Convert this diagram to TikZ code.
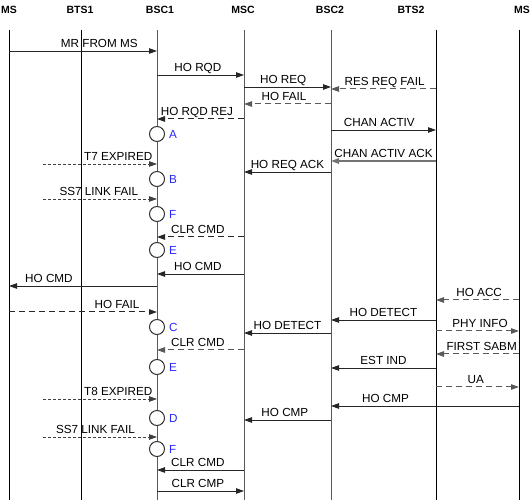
\documentclass[tikz,border=0pt]{standalone}
\usepackage{fontspec}
\setmainfont{Liberation Sans}
\usetikzlibrary{arrows.meta}
\definecolor{lettblue}{RGB}{40,40,250}

\begin{document}
\begin{tikzpicture}[
    x=1pt, y=-1pt,
    head/.style={font=\fontsize{10.5}{12}\selectfont\bfseries, inner sep=0pt},
    life/.style={line width=1pt},
    lifeg/.style={line width=1pt, black!65},
    msg/.style={-{Triangle[length=8pt,width=5.5pt]}, line width=0.9pt, black!85},
    dmsg/.style={msg, black!65, line width=1pt, dash pattern=on 6pt off 4pt},
    fmsg/.style={msg, black!75, line width=0.8pt, dash pattern=on 3pt off 2pt},
    lbl/.style={font=\fontsize{11.7}{13}\selectfont, text=black, anchor=base, yshift=3.5pt, inner sep=0pt},
    stcirc/.style={circle, draw=black!80, fill=white, line width=1pt, minimum size=15pt, inner sep=0pt,
        label={[font=\fontsize{11.7}{13}\selectfont, text=lettblue, inner sep=0pt, label distance=4pt]right:#1}}
]
\useasboundingbox (0,0) rectangle (531,502);

% headers
\node[head] (hms) at (9,10) {MS};
\node[head] (hbts1) at (80,10) {BTS1};
\node[head] (hbsc1) at (160,10) {BSC1};
\node[head] (hmsc) at (243,10) {MSC};
\node[head] (hbsc2) at (330,10) {BSC2};
\node[head] (hbts2) at (411,10) {BTS2};
\node[head] (hms2) at (522,10) {MS};

% lifelines
\coordinate (ms) at (9,30);
\coordinate (bts1) at (81,30);
\coordinate (bsc1) at (157,30);
\coordinate (msc) at (244,30);
\coordinate (bsc2) at (331,30);
\coordinate (bts2) at (436,30);
\coordinate (ms2) at (519,30);
\coordinate (tmr) at (43,30);

\draw[life] (ms) -- (ms |- 0,500);
\draw[life] (bts1) -- (bts1 |- 0,500);
\draw[lifeg] (bsc1) -- (bsc1 |- 0,500);
\draw[lifeg] (msc) -- (msc |- 0,500);
\draw[lifeg] (bsc2) -- (bsc2 |- 0,500);
\draw[life] (bts2) -- (bts2 |- 0,500);
\draw[life] (ms2) -- (ms2 |- 0,500);

% messages
\draw[msg] (ms |- 0,51) -- node[lbl, pos=.61] {MR FROM MS} (bsc1 |- 0,51);
\draw[msg] (bsc1 |- 0,75) -- node[lbl, pos=.47] {HO RQD} (msc |- 0,75);
\draw[msg] (msc |- 0,87) -- node[lbl, pos=.45] {HO REQ} (bsc2 |- 0,87);
\draw[dmsg] (bts2 |- 0,89) -- node[lbl, pos=.49] {RES REQ FAIL} (bsc2 |- 0,89);
\draw[dmsg] (bsc2 |- 0,104) -- node[lbl, pos=.54] {HO FAIL} (msc |- 0,104);
\draw[dmsg, black!85] (msc |- 0,119) -- node[lbl, pos=.54] {HO RQD REJ} (bsc1 |- 0,119);
\draw[msg] (bsc2 |- 0,130) -- node[lbl, pos=.46] {CHAN ACTIV} (bts2 |- 0,130);
\draw[msg, black!55, line width=1.4pt] (bts2 |- 0,161) -- node[lbl, pos=.5] {CHAN ACTIV ACK} (bsc2 |- 0,161);
\draw[fmsg] (tmr |- 0,164) -- node[lbl, pos=.66] {T7 EXPIRED} (bsc1 |- 0,164);
\draw[msg] (bsc2 |- 0,172) -- node[lbl, pos=.5] {HO REQ ACK} (msc |- 0,172);
\draw[fmsg] (tmr |- 0,199) -- node[lbl, pos=.49] {SS7 LINK FAIL} (bsc1 |- 0,199);
\draw[dmsg, black!85] (msc |- 0,237) -- node[lbl, pos=.53] {CLR CMD} (bsc1 |- 0,237);
\draw[msg] (msc |- 0,274) -- node[lbl, pos=.53] {HO CMD} (bsc1 |- 0,274);
\draw[msg] (bsc1 |- 0,286) -- node[lbl, pos=.73] {HO CMD} (ms |- 0,286);
\draw[dmsg] (ms2 |- 0,300) -- node[lbl, pos=.48] {HO ACC} (bts2 |- 0,300);
\draw[dmsg, black!85] (ms |- 0,312) -- node[lbl, pos=.73] {HO FAIL} (bsc1 |- 0,312);
\draw[msg] (bts2 |- 0,320) -- node[lbl, pos=.5] {HO DETECT} (bsc2 |- 0,320);
\draw[dmsg] (bts2 |- 0,331) -- node[lbl, pos=.53] {PHY INFO} (ms2 |- 0,331);
\draw[msg] (bsc2 |- 0,333) -- node[lbl, pos=.5] {HO DETECT} (msc |- 0,333);
\draw[dmsg] (msc |- 0,350) -- node[lbl, pos=.53] {CLR CMD} (bsc1 |- 0,350);
\draw[dmsg] (ms2 |- 0,354) -- node[lbl, pos=.45] {FIRST SABM} (bts2 |- 0,354);
\draw[msg] (bts2 |- 0,368) -- node[lbl, pos=.5] {EST IND} (bsc2 |- 0,368);
\draw[dmsg] (bts2 |- 0,387) -- node[lbl, pos=.48] {UA} (ms2 |- 0,387);
\draw[fmsg] (tmr |- 0,399) -- node[lbl, pos=.66] {T8 EXPIRED} (bsc1 |- 0,399);
\draw[msg] (ms2 |- 0,406) -- node[lbl, pos=.71] {HO CMP} (bsc2 |- 0,406);
\draw[msg] (bsc2 |- 0,420) -- node[lbl, pos=.53] {HO CMP} (msc |- 0,420);
\draw[fmsg] (tmr |- 0,437) -- node[lbl, pos=.46] {SS7 LINK FAIL} (bsc1 |- 0,437);
\draw[msg] (msc |- 0,470) -- node[lbl, pos=.53] {CLR CMD} (bsc1 |- 0,470);
\draw[msg] (bsc1 |- 0,491) -- node[lbl, pos=.47] {CLR CMP} (msc |- 0,491);

% states on BSC1
\node[stcirc=A] (sa) at (bsc1 |- 0,134) {};
\node[stcirc=B] (sb) at (bsc1 |- 0,179) {};
\node[stcirc=F] (sf1) at (bsc1 |- 0,214) {};
\node[stcirc=E] (se1) at (bsc1 |- 0,250) {};
\node[stcirc=C] (sc) at (bsc1 |- 0,327) {};
\node[stcirc=E] (se2) at (bsc1 |- 0,367) {};
\node[stcirc=D] (sd) at (bsc1 |- 0,418) {};
\node[stcirc=F] (sf2) at (bsc1 |- 0,449) {};
\end{tikzpicture}
\end{document}
